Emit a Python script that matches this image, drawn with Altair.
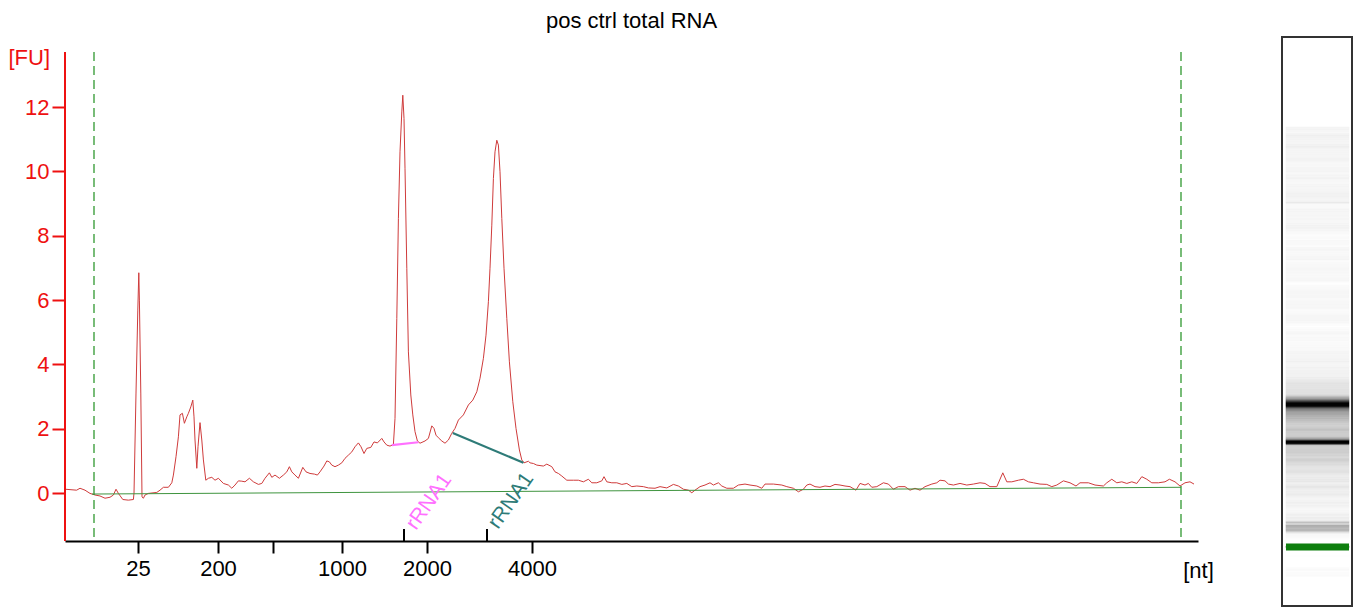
import altair as alt
import pandas as pd

FONT = "Liberation Sans"

# Electropherogram trace: migration time [s] and fluorescence [FU]
time_s = [
    17.00, 17.58, 17.75, 18.00, 18.25, 18.50, 18.75, 19.00, 19.25, 19.42,
    19.55, 19.67, 19.89, 20.17, 20.42, 20.45, 20.55, 20.64, 20.69, 20.72,
    20.79, 20.85, 20.92, 21.00, 21.17, 21.59, 21.75, 21.92, 22.17, 22.34,
    22.42, 22.55, 22.67, 22.75, 22.87, 22.97, 23.09, 23.17, 23.29, 23.39,
    23.45, 23.50, 23.59, 23.65, 23.75, 23.84, 23.92, 24.04,
    24.17, 24.34, 24.50, 24.67, 24.92, 25.17, 25.34, 25.50, 25.67, 25.84,
    26.00, 26.22, 26.42, 26.67, 26.84, 27.00, 27.22, 27.34, 27.50, 27.72,
    27.92, 28.09, 28.22, 28.34, 28.50, 28.67, 28.89, 29.05, 29.25, 29.47,
    29.62, 29.75, 29.95, 30.09, 30.22, 30.34, 30.50, 30.67, 30.84, 31.00,
    31.17, 31.34, 31.50, 31.67, 31.80, 31.95, 32.09, 32.29, 32.45, 32.62,
    32.84, 32.95, 33.09, 33.25, 33.42,
    33.50, 33.59, 33.67, 33.75, 33.84, 33.89, 33.95, 34.00, 34.09, 34.17,
    34.29, 34.39, 34.50, 34.62, 34.75, 35.00, 35.17, 35.34, 35.45, 35.55,
    35.67, 35.84, 36.00, 36.17, 36.34, 36.50, 36.67, 36.92, 37.17, 37.39,
    37.59, 37.75, 37.92, 38.05, 38.17, 38.25, 38.34, 38.42, 38.50, 38.59,
    38.67, 38.75, 38.84, 38.95, 39.09, 39.22, 39.39, 39.55, 39.72, 39.84,
    39.95, 40.17,
    40.25, 40.42, 40.59, 40.92, 41.09, 41.34, 41.50, 41.67, 41.84, 42.09,
    42.42, 42.67, 42.92, 43.17, 43.34, 43.59, 43.84, 43.95, 44.09, 44.34,
    44.59, 44.84, 45.09, 45.34, 45.59, 45.92, 46.17, 46.50, 46.75, 47.09,
    47.42, 47.67, 47.92, 48.17, 48.34, 48.50, 48.75, 49.00, 49.25, 49.42,
    49.67, 49.84, 50.09, 50.42, 50.67, 51.00, 51.25, 51.59, 51.84, 52.00,
    52.42, 52.84, 53.09, 53.42, 53.67, 53.92, 54.09, 54.25, 54.50, 54.75,
    55.00, 55.25, 55.50, 55.75, 56.00, 56.25, 56.55, 56.75, 57.00, 57.17,
    57.34, 57.59, 57.92, 58.17, 58.42, 58.67, 59.00, 59.25, 59.50, 59.75,
    60.00, 60.34, 60.59, 60.75, 61.00, 61.17, 61.42, 61.75, 62.09, 62.42,
    62.75, 63.00, 63.25, 63.59, 63.89, 64.09, 64.34, 64.67, 64.92, 65.17,
    65.42, 65.75, 66.09, 66.34, 66.59, 66.92, 67.25, 67.55, 67.75, 68.17,
    68.50, 68.92, 69.09, 69.34, 69.59, 69.84, 70.09, 70.34, 70.59, 70.84,
    71.09, 71.34, 71.67, 72.00, 72.22, 72.50, 72.75, 73.00, 73.25, 73.45,
]
fu_values = [
    0.12, 0.09, 0.15, 0.09, -0.01, -0.06, -0.09, -0.16, -0.13, -0.06,
    0.12, -0.01, -0.20, -0.22, -0.20, 0.00, 3.11, 5.69, 6.85, 6.00,
    3.11, -0.12, -0.16, -0.06, -0.01, 0.02, 0.09, 0.18, 0.18, 0.32,
    0.56, 1.13, 1.75, 2.43, 2.48, 2.17, 2.37, 2.48, 2.68, 2.89,
    2.37, 1.65, 0.77, 1.44, 2.19, 1.65, 1.03, 0.40,
    0.46, 0.49, 0.40, 0.46, 0.30, 0.25, 0.15, 0.25, 0.38, 0.37,
    0.35, 0.46, 0.35, 0.27, 0.30, 0.46, 0.63, 0.49, 0.56, 0.46,
    0.56, 0.66, 0.82, 0.66, 0.56, 0.46, 0.80, 0.66, 0.61, 0.59,
    0.56, 0.66, 0.84, 1.00, 0.97, 0.87, 0.82, 0.87, 0.94, 1.08,
    1.18, 1.28, 1.44, 1.56, 1.44, 1.23, 1.39, 1.42, 1.59, 1.56,
    1.70, 1.59, 1.49, 1.46, 1.51,
    2.32, 5.43, 8.54, 10.61, 11.85, 12.37, 11.65, 10.10, 6.99, 4.39,
    3.05, 2.43, 1.91, 1.62, 1.55, 1.62, 1.70, 2.09, 2.01, 1.80,
    1.72, 1.62, 1.55, 1.65, 1.86, 2.01, 2.27, 2.43, 2.74, 2.89,
    3.15, 3.57, 4.19, 4.91, 5.95, 6.99, 8.33, 9.78, 10.61, 10.97,
    10.82, 9.99, 8.54, 6.99, 5.43, 4.08, 2.84, 2.01, 1.34, 1.03,
    0.94, 0.99,
    0.94, 0.92, 0.87, 0.84, 0.90, 0.82, 0.66, 0.61, 0.53, 0.40,
    0.40, 0.40, 0.35, 0.43, 0.32, 0.32, 0.38, 0.51, 0.35, 0.32,
    0.32, 0.27, 0.30, 0.20, 0.22, 0.20, 0.16, 0.15, 0.20, 0.16,
    0.27, 0.22, 0.12, 0.09, 0.01, 0.09, 0.20, 0.25, 0.32, 0.25,
    0.32, 0.22, 0.15, 0.15, 0.25, 0.28, 0.25, 0.22, 0.15, 0.28,
    0.28, 0.25, 0.20, 0.15, 0.04, 0.12, 0.25, 0.28, 0.20, 0.18,
    0.22, 0.20, 0.27, 0.25, 0.22, 0.20, 0.09, 0.30, 0.25, 0.30,
    0.18, 0.20, 0.32, 0.28, 0.12, 0.20, 0.20, 0.09, 0.15, 0.09,
    0.20, 0.28, 0.32, 0.40, 0.38, 0.28, 0.25, 0.30, 0.25, 0.28,
    0.32, 0.30, 0.20, 0.20, 0.63, 0.35, 0.35, 0.40, 0.43, 0.35,
    0.32, 0.28, 0.27, 0.20, 0.25, 0.38, 0.32, 0.22, 0.32, 0.32,
    0.25, 0.22, 0.32, 0.43, 0.32, 0.35, 0.30, 0.35, 0.30, 0.51,
    0.43, 0.32, 0.32, 0.35, 0.43, 0.35, 0.22, 0.32, 0.35, 0.28,
]

# Baseline (green) under the trace
baseline_t = [18.35, 72.80]
baseline_fu = [-0.03, 0.18]

# Analysis window (dashed green lines)
window_t = [18.45, 72.80]

# Size ladder ticks on the x axis
x_tick_times = [20.65, 24.65, 27.40, 30.85, 35.10, 40.35]
x_tick_labels = ["25", "200", "", "1000", "2000", "4000"]
y_tick_values = [0, 2, 4, 6, 8, 10, 12]

# rRNA fragment annotations
frag_kind = ["18S", "28S"]
frag_label = ["rRNA1", "rRNA1"]
frag_start_t = [33.34, 36.39]
frag_start_fu = [1.49, 1.87]
frag_end_t = [34.67, 39.92]
frag_end_fu = [1.58, 0.94]
frag_tick_t = [33.95, 38.10]
frag_label_t = [34.55, 38.65]
frag_label_fu = [-1.18, -1.15]

# Lower marker (shown green in the gel lane)
lower_marker_t = [20.69]

X_DOMAIN = [17.0, 73.65]
Y_DOMAIN = [-1.49, 14.18]
GEL_DOMAIN = [13.28, 84.76]

RED = "#ee1111"
PINK = "#ff70ff"
TEAL = "#2e7b78"
FS = 22

xs = alt.Scale(domain=X_DOMAIN, nice=False, zero=False)
ys = alt.Scale(domain=Y_DOMAIN, nice=False, zero=False)
frag_color = alt.Color("kind:N", scale=alt.Scale(domain=frag_kind, range=[PINK, TEAL]), legend=None)

label_expr = " : ".join(
    f"datum.value == {v} ? '{l}'" for v, l in zip(x_tick_times, x_tick_labels)
) + " : ''"

X_AXIS = alt.Axis(
    values=x_tick_times, labelExpr=label_expr, grid=False,
    domainColor="black", domainWidth=2, tickColor="black", tickWidth=2, tickSize=12,
    labelFont=FONT, labelFontSize=FS, labelColor="black", labelPadding=5,
    labelOverlap=False, labelFlush=False,
    title="[nt]", titleFont=FONT, titleFontSize=FS, titleFontWeight="normal",
    titleColor="black", titleX=1133, titleY=19, titleAlign="center", titleBaseline="top")
Y_AXIS = alt.Axis(
    values=y_tick_values, grid=False, domain=False,
    tickColor=RED, tickWidth=2, tickSize=13,
    labelFont=FONT, labelFontSize=FS, labelColor=RED, labelPadding=3,
    title="[FU]", titleFont=FONT, titleFontSize=FS, titleFontWeight="normal",
    titleColor=RED, titleAngle=0, titleX=-57, titleY=20, titleAlign="left",
    titleBaseline="middle")


def X(field):
    return alt.X(field, scale=xs, axis=X_AXIS)


def Y(field):
    return alt.Y(field, scale=ys, axis=Y_AXIS)


trace = pd.DataFrame({"t": time_s, "fu": fu_values})

curve = alt.Chart(trace).mark_line(color="#cf3b3b", strokeWidth=1).encode(
    x=X("t:Q"), y=Y("fu:Q"))

baseline = alt.Chart(pd.DataFrame({"t": baseline_t, "fu": baseline_fu})).mark_line(
    color="#3f943f", strokeWidth=1).encode(x=X("t:Q"), y=Y("fu:Q"))

window = alt.Chart(pd.DataFrame({"t": window_t})).mark_rule(
    color="#1f8f1f", strokeDash=[9, 5], strokeWidth=1.2).encode(
    x=X("t:Q"), y=alt.value(15), y2=alt.value(504))

y_axis_line = alt.Chart(pd.DataFrame({"a": [0]})).mark_rule(color=RED, strokeWidth=2).encode(
    x=alt.value(0), y=alt.value(15), y2=alt.value(504))

frags = pd.DataFrame({
    "kind": frag_kind, "label": frag_label,
    "t1": frag_start_t, "f1": frag_start_fu, "t2": frag_end_t, "f2": frag_end_fu,
    "tick": frag_tick_t, "lt": frag_label_t, "lf": frag_label_fu,
})

frag_lines = alt.Chart(frags).mark_rule(strokeWidth=2.2).encode(
    x=X("t1:Q"), y=Y("f1:Q"), x2="t2:Q", y2="f2:Q", color=frag_color)

frag_ticks = alt.Chart(frags).mark_rule(color="black", strokeWidth=2).encode(
    x=X("tick:Q"), y=alt.value(492), y2=alt.value(504))

frag_text = alt.Chart(frags).mark_text(
    angle=305, align="left", baseline="alphabetic", font=FONT, fontSize=21).encode(
    x=X("lt:Q"), y=Y("lf:Q"), text="label:N", color=frag_color)

main = alt.layer(
    curve, window, y_axis_line, baseline, frag_lines, frag_ticks, frag_text
).properties(
    width=1133, height=504,
    title=alt.TitleParams("pos ctrl total RNA", font=FONT, fontSize=22, fontWeight="normal",
                          color="black", anchor="middle", frame="group", offset=4),
    view=alt.ViewBackground(strokeWidth=0),
)

# Virtual gel lane
gel_df = pd.DataFrame({"t": time_s[:-1], "t2": time_s[1:], "fu": fu_values[:-1]})
gel_scale = alt.Scale(domain=GEL_DOMAIN, nice=False, zero=False)
gray = alt.Scale(domain=[0, 9], range=["#ffffff", "#000000"], clamp=True)

gel_bands = alt.Chart(gel_df).mark_rect(strokeWidth=0.6).encode(
    y=alt.Y("t:Q", scale=gel_scale, axis=None), y2="t2:Q",
    x=alt.value(4), x2=alt.value(67),
    color=alt.Color("fu:Q", scale=gray, legend=None),
    stroke=alt.Stroke("fu:Q", scale=gray, legend=None),
)

marker_band = alt.Chart(pd.DataFrame({"t": lower_marker_t})).transform_calculate(
    lo="datum.t - 0.45", hi="datum.t + 0.45"
).mark_rect(color="#0f7f0f").encode(
    y=alt.Y("lo:Q", scale=gel_scale, axis=None), y2="hi:Q",
    x=alt.value(4), x2=alt.value(67))

gel = alt.layer(gel_bands, marker_band).properties(
    width=70, height=569,
    view=alt.ViewBackground(stroke="#333333", strokeWidth=2),
)

chart = alt.hconcat(main, gel, spacing=84, bounds="flush").properties(
    padding={"left": 0, "top": 2, "right": 0, "bottom": 0}
).configure(font=FONT).resolve_scale(y="independent", x="independent")

chart.save("out.html", embed_options={"renderer": "svg", "actions": False})
